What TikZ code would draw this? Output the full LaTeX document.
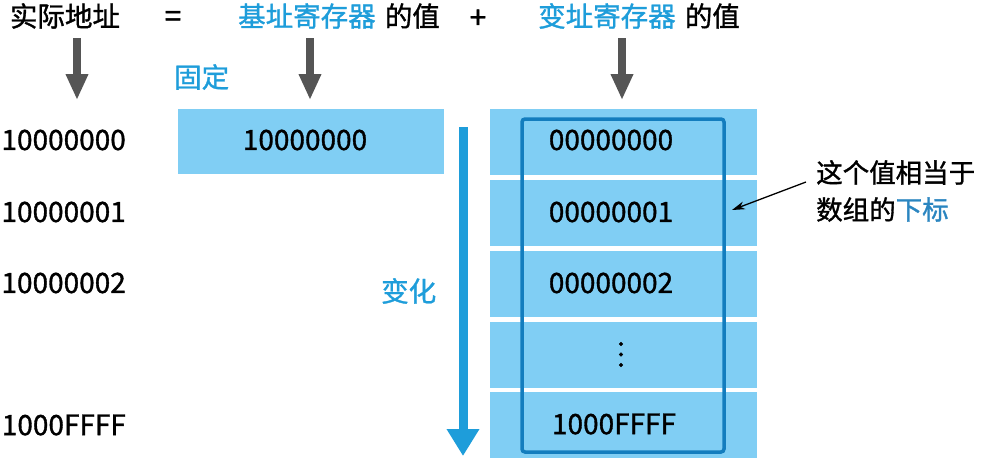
\documentclass[tikz,border=0pt]{standalone}
\usepackage{fontspec}
\setmainfont{Noto Sans CJK SC}[FakeBold=1.2]
\usetikzlibrary{arrows.meta}
\definecolor{cellblue}{HTML}{80CEF4}
\definecolor{txtblue}{HTML}{1E9DDA}
\definecolor{darkblue}{HTML}{137DBE}
\definecolor{idxblue}{HTML}{2A85C0}
\definecolor{arrgray}{HTML}{555555}
\begin{document}
\begin{tikzpicture}[x=1pt,y=-1pt,
  lbl/.style={inner sep=0pt,font=\fontsize{27.5}{30}\selectfont},
  sym/.style={inner sep=0pt,font=\fontsize{30}{32}\selectfont},
  num/.style={inner sep=0pt,font=\fontsize{28}{30}\selectfont},
  cell/.style={fill=cellblue,draw=none,minimum width=267pt,minimum height=66pt,inner sep=0pt,anchor=north west},
  grayarrow/.style={draw=arrgray,line width=8pt,-{Triangle[width=21pt,length=26pt]}},
  bluearrow/.style={draw=txtblue,line width=9pt,-{Triangle[width=31pt,length=27pt]}}
]
\useasboundingbox (0,0) rectangle (985,463);
% top row
\node[lbl] (actual) at (65,16) {实际地址};
\node[sym] (eq) at (173,19) {=};
\node[lbl,anchor=west] (base) at (238,16) {\textcolor{txtblue}{基址寄存器}\hspace{3pt} 的值};
\node[sym] (plus) at (478,19) {+};
\node[lbl,anchor=west] (index) at (538,16) {\textcolor{txtblue}{变址寄存器}\hspace{3pt} 的值};
% coordinates for gray arrows
\coordinate (a1s) at (77,38); \coordinate (a1e) at (77,100);
\coordinate (a2s) at (310,38); \coordinate (a2e) at (310,100);
\coordinate (a3s) at (622,38); \coordinate (a3e) at (622,100);
\draw[grayarrow] (a1s) -- (a1e);
\draw[grayarrow] (a2s) -- (a2e);
\draw[grayarrow] (a3s) -- (a3e);
\node[lbl,text=txtblue,anchor=west] (fixed) at (174,77) {固定};
% base box
\node[fill=cellblue,minimum width=266pt,minimum height=65pt,inner sep=0pt,anchor=north west] (basebox) at (178,109) {};
\node[num] (baseval) at (305,140) {10000000};
% left addresses
\node[num,anchor=east] (ad0) at (126,140) {10000000};
\node[num,anchor=east] (ad1) at (126,212) {10000001};
\node[num,anchor=east] (ad2) at (126,283) {10000002};
\node[num,anchor=east] (ad3) at (126,425) {1000FFFF};
% blue arrow
\coordinate (bs) at (463,127); \coordinate (be) at (463,456);
\draw[bluearrow] (bs) -- (be);
\node[lbl,text=txtblue,anchor=west] (change) at (381,291) {变化};
% cells
\node[cell] (c0) at (490,109) {};
\node[cell] (c1) at (490,180) {};
\node[cell] (c2) at (490,251) {};
\node[cell] (c3) at (490,322) {};
\node[cell] (c4) at (490,392) {};
\node[num] (v0) at (611,140) {00000000};
\node[num] (v1) at (611,212) {00000001};
\node[num] (v2) at (611,283) {00000002};
\node[num] (v3) at (621,355) {\rotatebox{90}{…}};
\node[num] (v4) at (614,424) {1000FFFF};
\draw[darkblue,line width=3.5pt,rounded corners=3pt] (522,119) rectangle (724,452);
\coordinate (frameE) at (732,210);
% annotation
\node[lbl,anchor=west,align=left,font=\fontsize{26.5}{37}\selectfont] (note) at (816,191) {这个值相当于\\数组的\textcolor{idxblue}{下标}};
\coordinate (noteS) at (806,182);
\draw[-{Stealth[length=13pt,width=8pt]},line width=1.3pt] (noteS) -- (frameE);
\end{tikzpicture}
\end{document}
